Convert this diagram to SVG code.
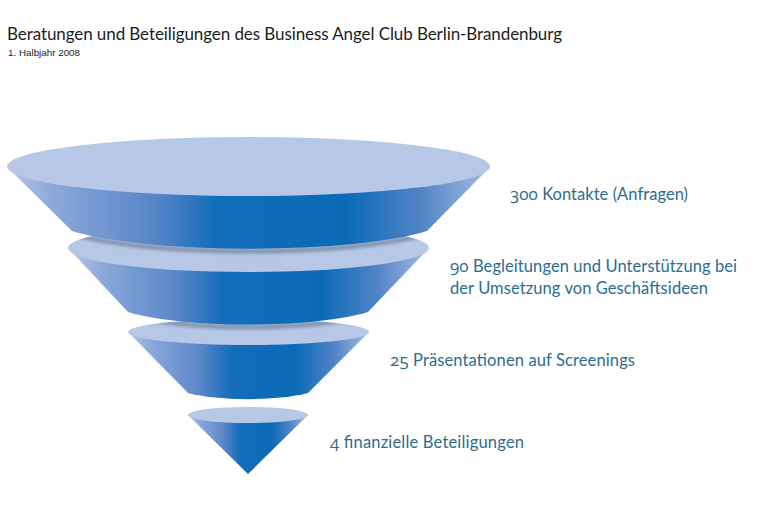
<svg xmlns="http://www.w3.org/2000/svg" width="762" height="508" viewBox="0 0 762 508">
  <style>
    .title { font-family: Lato, "Noto Sans", sans-serif; font-size: 17px; fill: #1c1c1f; }
    .sub { font-family: "Liberation Sans", Arial, sans-serif; font-size: 9.8px; fill: #222; }
    .label { font-family: Lato, "Noto Sans", sans-serif; font-size: 16.5px; fill: #2b6c92; }
    .num { font-family: "Open Sans", sans-serif; font-size: 17px; font-variant-numeric: oldstyle-nums; }
    .cap { fill: #b7c8e6; }
    .body { fill: url(#coneShade); }
    .shadow { fill: #4a5a70; opacity: 0.45; filter: url(#soft); }
  </style>
  <defs>
    <linearGradient id="coneShade" x1="0" y1="0" x2="1" y2="0">
      <stop offset="0" stop-color="#b5c7e6"/>
      <stop offset="0.1" stop-color="#8aa7da"/>
      <stop offset="0.3" stop-color="#5a86c8"/>
      <stop offset="0.43" stop-color="#136dba"/>
      <stop offset="0.7" stop-color="#0b6ab6"/>
      <stop offset="0.86" stop-color="#5285c6"/>
      <stop offset="1" stop-color="#a8bde1"/>
    </linearGradient>
    <filter id="soft" x="-10%" y="-50%" width="120%" height="200%">
      <feGaussianBlur stdDeviation="1.6"/>
    </filter>
    <clipPath id="cap2"><ellipse cx="248.5" cy="248" rx="180.5" ry="24"/></clipPath>
    <clipPath id="cap3"><ellipse cx="248.5" cy="332" rx="120.5" ry="13"/></clipPath>
  </defs>

  <rect width="762" height="508" fill="#ffffff"/>

  <text class="title" x="7" y="39.5" textLength="555" lengthAdjust="spacing">Beratungen und Beteiligungen des Business Angel Club Berlin-Brandenburg</text>
  <text class="sub" x="8" y="56" textLength="72" lengthAdjust="spacing">1. Halbjahr 2008</text>

  <!-- Funnel tiers, drawn narrowest first so each casts a shadow on the one below -->
  <g id="tier-4">
    <path class="body" d="M188,415 L248,474 L308,415 Z"/>
    <ellipse class="cap" cx="248" cy="415" rx="60" ry="8"/>
    <text class="label" x="330" y="447.5" textLength="194" lengthAdjust="spacing"><tspan class="num">4</tspan> finanzielle Beteiligungen</text>
  </g>
  <g id="tier-3">
    <path class="body" d="M128,332 L188,393 A78,17 0 0 0 308,393 L369,332 Z"/>
    <ellipse class="cap" cx="248.5" cy="332" rx="120.5" ry="13"/>
    <text class="label" x="390" y="365.5" textLength="245" lengthAdjust="spacing"><tspan class="num">25</tspan> Präsentationen auf Screenings</text>
  </g>
  <g id="tier-2">
    <g clip-path="url(#cap3)"><path class="shadow" d="M128,312 A140,26 0 0 0 368,312 L368,317 A140,26 0 0 1 128,317 Z"/></g>
    <path class="body" d="M68,248 L128,312 A140,26 0 0 0 368,312 L429,248 Z"/>
    <ellipse class="cap" cx="248.5" cy="248" rx="180.5" ry="24"/>
    <text class="label" x="450" y="271.5" textLength="287" lengthAdjust="spacing"><tspan class="num">90</tspan> Begleitungen und Unterstützung bei</text>
    <text class="label" x="450" y="293.5" textLength="258" lengthAdjust="spacing">der Umsetzung von Geschäftsideen</text>
  </g>
  <g id="tier-1">
    <g clip-path="url(#cap2)"><path class="shadow" d="M72,231 A200,33 0 0 0 427,231 L427,236 A200,33 0 0 1 72,236 Z"/></g>
    <path class="body" d="M7,167 L72,231 A200,33 0 0 0 427,231 L490,167 Z"/>
    <ellipse class="cap" cx="248.5" cy="166.5" rx="241.5" ry="29.5"/>
    <text class="label" x="510" y="199.5" textLength="178" lengthAdjust="spacing"><tspan class="num">300</tspan> Kontakte (Anfragen)</text>
  </g>
</svg>
